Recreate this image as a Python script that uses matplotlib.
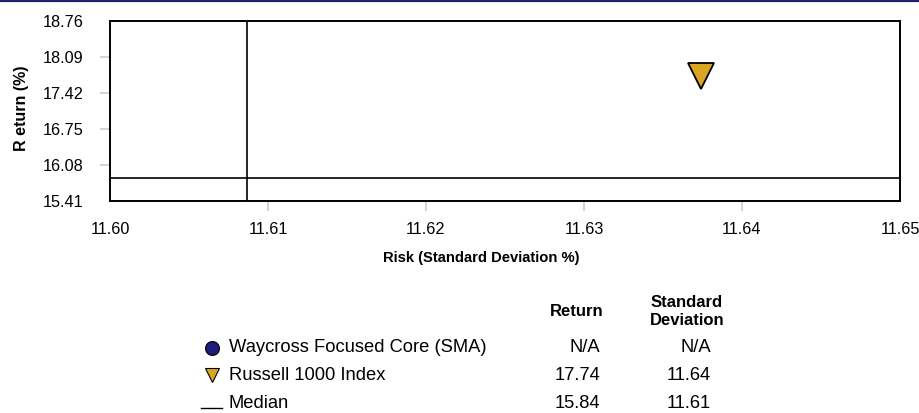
import matplotlib
matplotlib.use("Agg")
import matplotlib.pyplot as plt
from matplotlib.lines import Line2D

plt.rcParams['font.family'] = ['Liberation Sans', 'DejaVu Sans']

# data
names = ["Waycross Focused Core (SMA)", "Russell 1000 Index", "Median"]
returns = [None, 17.74, 15.84]
risks = [None, 11.6374, 11.6087]
return_labels = ["N/A", "17.74", "15.84"]
risk_labels = ["N/A", "11.64", "11.61"]
yticks = [15.41, 16.08, 16.75, 17.42, 18.09, 18.76]
xticks = [11.60, 11.61, 11.62, 11.63, 11.64, 11.65]

W, H = 920, 413
fig = plt.figure(figsize=(W / 100, H / 100), dpi=100)

ax = fig.add_axes([110 / W, (H - 201) / H, 790 / W, 180 / H])
ax.set_xlim(xticks[0], xticks[-1])
ax.set_ylim(yticks[0], yticks[-1])
ax.set_xticks(xticks)
ax.set_xticklabels(["%.2f" % v for v in xticks])
ax.set_yticks(yticks)
ax.set_yticklabels(["%.2f" % v for v in yticks])
ax.tick_params(axis='both', length=7, width=1.2, color='#cccccc', labelsize=11.7)
ax.tick_params(axis='y', pad=12)
ax.tick_params(axis='x', pad=8)
for t in [ax.xaxis.get_major_ticks()[0], ax.xaxis.get_major_ticks()[-1],
          ax.yaxis.get_major_ticks()[0], ax.yaxis.get_major_ticks()[-1]]:
    t.tick1line.set_visible(False)
for s in ax.spines.values():
    s.set_linewidth(1.4)
    s.set_color('black')

# median cross
ax.axvline(risks[2], color='black', lw=1.2, zorder=2)
ax.axhline(returns[2], color='black', lw=1.2, zorder=2)
# index marker
ax.plot(risks[1], returns[1], marker='v', ms=19, color='#DAA520',
        markeredgecolor='black', markeredgewidth=1.3, linestyle='none', zorder=3)

fig.text(22 / W, 1 - 108 / H, "R eturn (%)", rotation=90, ha='center', va='center',
         fontsize=11.5, fontweight='bold')
fig.text(481 / W, 1 - 258 / H, "Risk (Standard Deviation %)", ha='center', va='center',
         fontsize=10.6, fontweight='bold')

# legend table
lg = fig.add_axes([0, 0, 1, 1], zorder=5)
lg.set_xlim(0, W)
lg.set_ylim(H, 0)
lg.axis('off')
lg.patch.set_alpha(0)
rows_y = [348, 375, 403]
lg.plot(212, rows_y[0], marker='o', ms=10, color='#1c1c7a', markeredgecolor='black',
        markeredgewidth=0.8, linestyle='none')
lg.plot(212, rows_y[1], marker='v', ms=10, color='#DAA520', markeredgecolor='black',
        markeredgewidth=0.8, linestyle='none')
lg.plot([201, 222], [rows_y[2] + 5, rows_y[2] + 5], color='black', lw=1)
for i, name in enumerate(names):
    lg.text(229, rows_y[i], name, ha='left', va='center', fontsize=13.2)
    lg.text(600, rows_y[i], return_labels[i], ha='right', va='center', fontsize=13.2)
    lg.text(711, rows_y[i], risk_labels[i], ha='right', va='center', fontsize=13.2)
lg.text(577, 312, "Return", ha='center', va='center', fontsize=12, fontweight='bold')
lg.text(687, 311.5, "Standard\nDeviation", ha='center', va='center', fontsize=12,
        fontweight='bold', linespacing=1.3)

fig.add_artist(Line2D([0, 1], [1 - 1 / H, 1 - 1 / H], color='#1f1f6e', lw=1.6))

fig.savefig("out.png", dpi=100)
